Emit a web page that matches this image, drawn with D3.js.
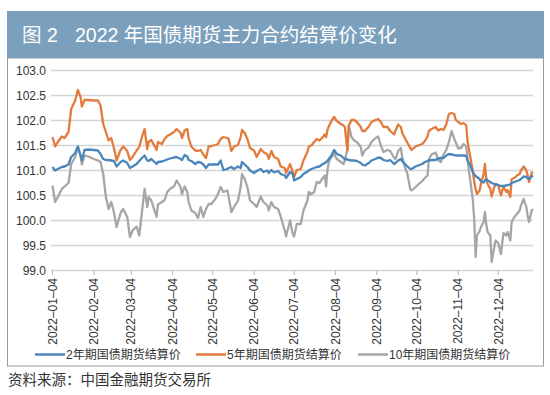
<!DOCTYPE html>
<html>
<head>
<meta charset="utf-8">
<script src="https://cdn.jsdelivr.net/npm/d3@7"></script>
<style>
  body { margin: 0; background: #fff; }
  svg { display: block; font-family: "Liberation Sans", "Noto Sans CJK SC", sans-serif; }
</style>
</head>
<body>
<svg width="550" height="395"></svg>
<script>
// trading-day samples (2022)
var dates = ["01-04","01-06","01-08","01-11","01-13","01-16","01-18","01-21","01-23","01-25","01-26","01-28","01-31","02-04","02-07","02-09","02-11","02-13","02-15","02-17","02-19","02-21","02-24","02-26","03-01","03-03",
  "03-05","03-08","03-10","03-12","03-14","03-16","03-17","03-19","03-23","03-24","03-27","03-29","03-31","04-02","04-05","04-07","04-10","04-11","04-13","04-15","04-16","04-18","04-21","04-23","04-25","04-27","04-29","05-01",
  "05-03","05-06","05-08","05-10","05-12","05-15","05-16","05-18","05-20","05-23","05-25","05-26","05-28","05-30","06-01","06-04","06-06","06-09","06-11","06-14","06-15","06-17","06-19","06-22","06-24","06-27","06-28","07-01",
  "07-03","07-04","07-06","07-09","07-11","07-14","07-15","07-17","07-19","07-21","07-23","07-25","07-27","07-28","07-29","07-30","08-01","08-03","08-05","08-08","08-10","08-11","08-13","08-14","08-16","08-18","08-20","08-23","08-24","08-26","08-29",
  "08-31","09-03","09-05","09-07","09-09","09-12","09-14","09-17","09-18","09-20","09-22","09-23","09-25","09-27","09-29","09-30","10-03","10-05","10-08","10-10","10-12","10-13","10-15","10-18","10-20","10-22","10-24","10-26","10-28",
  "10-30","11-01","11-02","11-04","11-06","11-08","11-10","11-11","11-13","11-15","11-16","11-17","11-18","11-20","11-21","11-23","11-24","11-25","11-26","11-28","11-29","12-01","12-02","12-04","12-06","12-07","12-08","12-10","12-11","12-13","12-14","12-16","12-18","12-20","12-21","12-23","12-25","12-26","12-27","12-29","12-30"];

var bond2y = [101.07,101.00,101.03,101.07,101.08,101.12,101.27,101.35,101.48,101.30,101.20,101.41,101.42,101.41,101.40,101.33,101.23,101.21,101.21,101.20,101.19,101.08,101.17,101.20,101.15,101.05,
  101.08,101.13,101.19,101.25,101.30,101.20,101.19,101.23,101.13,101.17,101.18,101.20,101.22,101.24,101.26,101.27,101.23,101.21,101.31,101.28,101.21,101.19,101.13,101.17,101.16,101.12,101.05,101.12,
  101.12,101.12,101.12,101.20,101.01,101.03,101.05,101.07,101.03,101.08,101.05,101.17,101.12,101.07,101.00,100.95,100.99,101.03,100.97,101.00,100.95,101.01,100.96,100.99,100.93,100.90,100.85,100.97,
  100.93,100.80,100.83,100.87,100.93,100.98,101.00,101.03,101.05,101.07,101.08,101.12,101.15,101.17,101.19,101.23,101.30,101.41,101.33,101.30,101.25,101.23,101.22,101.21,101.20,101.20,101.19,101.15,101.12,101.10,101.15,
  101.20,101.23,101.26,101.25,101.21,101.19,101.21,101.13,101.15,101.20,101.23,101.19,101.13,101.08,101.03,101.03,101.08,101.10,101.13,101.17,101.19,101.20,101.21,101.21,101.24,101.25,101.25,101.30,101.33,
  101.32,101.31,101.30,101.30,101.30,101.30,101.29,101.20,101.10,100.97,100.92,100.89,100.87,100.83,100.79,100.76,100.80,100.83,100.80,100.77,100.75,100.73,100.72,100.71,100.69,100.69,100.69,100.70,100.71,100.72,100.75,100.77,100.79,100.81,100.83,100.88,100.87,100.85,100.83,100.88,100.90];

var bond5y = [101.67,101.48,101.57,101.68,101.65,101.77,102.23,102.40,102.61,102.47,102.28,102.41,102.41,102.40,102.40,102.30,101.93,101.77,101.60,101.65,101.45,101.20,101.41,101.48,101.39,101.21,
  101.27,101.40,101.47,101.67,101.83,101.43,101.57,101.61,101.41,101.57,101.53,101.63,101.69,101.72,101.77,101.83,101.75,101.65,101.80,101.83,101.65,101.48,101.40,101.39,101.41,101.32,101.25,101.48,
  101.49,101.51,101.53,101.63,101.67,101.65,101.63,101.39,101.48,101.51,101.67,101.81,101.75,101.63,101.45,101.40,101.27,101.43,101.37,101.32,101.23,101.39,101.27,101.23,101.08,101.05,100.95,101.13,
  100.97,100.87,101.01,101.03,101.20,101.37,101.48,101.50,101.57,101.63,101.60,101.65,101.72,101.67,101.81,101.88,101.99,102.07,101.99,101.93,101.90,101.87,101.40,101.90,102.01,102.01,101.97,101.87,101.79,101.79,101.88,
  101.97,102.01,102.03,101.97,101.87,101.87,101.79,101.72,101.80,101.92,101.87,101.75,101.65,101.55,101.45,101.41,101.48,101.50,101.53,101.59,101.68,101.79,101.83,101.87,101.80,101.83,101.81,101.92,102.13,
  102.15,102.13,102.02,101.97,101.93,101.95,101.90,101.57,101.27,100.97,100.77,100.63,100.53,100.60,100.73,100.93,101.13,100.83,100.73,100.63,100.48,100.67,100.73,100.70,100.50,100.60,100.67,100.57,100.61,100.47,100.83,100.85,100.90,100.93,101.00,101.08,101.00,100.90,100.77,100.95,100.97];

var bond10y = [100.70,100.37,100.47,100.63,100.68,100.75,101.13,101.27,101.48,101.30,101.12,101.30,101.28,101.23,101.20,101.17,100.93,100.47,100.23,100.37,100.17,99.87,100.15,100.23,100.07,99.67,
  99.80,99.88,99.70,100.17,100.63,100.27,100.47,100.40,100.07,100.32,100.37,100.41,100.57,100.63,100.68,100.80,100.67,100.53,100.68,100.57,100.37,100.20,100.15,100.05,100.27,100.07,100.23,100.33,
  100.33,100.43,100.53,100.67,100.57,100.60,100.47,100.17,100.27,100.40,100.67,100.93,100.83,100.67,100.40,100.33,100.27,100.48,100.37,100.30,100.20,100.37,100.27,100.23,100.08,99.80,99.68,100.00,
  99.73,99.68,99.93,99.93,100.20,100.40,100.57,100.53,100.57,100.77,100.75,100.83,100.90,100.68,101.00,101.17,101.27,101.33,101.23,101.17,101.13,101.20,101.43,101.90,101.67,101.60,101.57,101.47,101.30,101.40,101.47,
  101.57,101.65,101.68,101.50,101.37,101.41,101.39,101.25,101.23,101.39,101.45,101.27,101.07,100.92,100.63,100.60,100.67,100.72,100.79,100.85,100.90,101.23,101.32,101.36,101.21,101.17,101.32,101.41,101.57,
  101.79,101.63,101.57,101.44,101.45,101.53,101.48,101.20,100.80,100.40,100.00,99.27,99.70,99.79,99.87,99.97,100.17,99.92,99.77,99.70,99.17,99.47,99.60,99.55,99.33,99.57,99.75,99.70,99.77,99.60,99.97,100.07,100.13,100.20,100.30,100.43,100.27,100.10,99.97,100.20,100.23];

var seriesNames = ["2年期国债期货结算价", "5年期国债期货结算价", "10年期国债期货结算价"];
var seriesColors = ["#4a86bb", "#e27b3c", "#a6a6a6"];
var yTicks = [99.0, 99.5, 100.0, 100.5, 101.0, 101.5, 102.0, 102.5, 103.0];
var xTicks = ["01-04","02-04","03-04","04-04","05-04","06-04","07-04","08-04","09-04","10-04","11-04","12-04"];

var parse = d3.utcParse("%Y-%m-%d");
var fmt = d3.utcFormat("%Y–%m–%d");
var svg = d3.select("svg");

// title band and frame
svg.append("rect").attr("x", 7.5).attr("y", 58).attr("width", 536).attr("height", 308)
  .attr("fill", "#fff").attr("stroke", "#9a9a9a").attr("stroke-width", 1);
svg.append("rect").attr("x", 7).attr("y", 11).attr("width", 537).attr("height", 47).attr("fill", "#7ba0bd");
var title = svg.append("text").attr("y", 35).attr("dominant-baseline", "central")
  .attr("fill", "#fff").attr("font-size", 19.5);
title.append("tspan").attr("x", 22).text("图 2");
title.append("tspan").attr("x", 75).text("2022 年国债期货主力合约结算价变化");

var x = d3.scaleUtc().domain([parse("2022-01-04"), parse("2022-12-30")]).range([52.5, 533]);
var y = d3.scaleLinear().domain([99, 103]).range([270.5, 70.5]);

// gridlines
svg.append("g").selectAll("line").data(yTicks).enter().append("line")
  .attr("x1", 51).attr("x2", 533)
  .attr("y1", function(d){ return y(d) }).attr("y2", function(d){ return y(d) })
  .attr("stroke", "#d4d4d4").attr("stroke-width", 1.5);

svg.append("g").selectAll("text").data(yTicks).enter().append("text")
  .attr("x", 46).attr("y", function(d){ return y(d) })
  .attr("text-anchor", "end").attr("dominant-baseline", "central")
  .attr("font-size", 12).attr("fill", "#333")
  .text(function(d){ return d.toFixed(1) });

// x ticks and rotated labels
var xt = svg.append("g").selectAll("g").data(xTicks).enter().append("g")
  .attr("transform", function(d){ return "translate(" + x(parse("2022-" + d)) + ",0)" });
xt.append("line").attr("y1", 270.5).attr("y2", 275).attr("stroke", "#bdbdbd").attr("stroke-width", 1.2);
xt.append("text").attr("transform", "translate(0,278) rotate(-90)")
  .attr("text-anchor", "end").attr("dy", "0.35em")
  .attr("font-size", 12).attr("fill", "#333")
  .text(function(d){ return fmt(parse("2022-" + d)) });

// lines
var series = [bond2y, bond5y, bond10y];
var line = d3.line()
  .x(function(d){ return x(d.date) })
  .y(function(d){ return y(d.v) });

// draw gray first, then orange, blue on top
[2, 1, 0].forEach(function(k){
  var pts = dates.map(function(d, i){ return { date: parse("2022-" + d), v: series[k][i] } });
  svg.append("path").datum(pts)
    .attr("d", line)
    .attr("fill", "none")
    .attr("stroke", seriesColors[k])
    .attr("stroke-width", 2.3)
    .attr("stroke-linejoin", "round");
});

// legend
var legendX = [35, 196, 358];
var lg = svg.append("g").selectAll("g").data(seriesNames).enter().append("g")
  .attr("transform", function(d, i){ return "translate(" + legendX[i] + ",354.5)" });
lg.append("line").attr("x1", 0).attr("x2", 30)
  .attr("stroke", function(d, i){ return seriesColors[i] }).attr("stroke-width", 2.5);
lg.append("text").attr("x", 31).attr("dominant-baseline", "central")
  .attr("font-size", 12).attr("fill", "#333")
  .text(function(d){ return d });

// source
svg.append("text").attr("x", 8).attr("y", 380).attr("dominant-baseline", "central")
  .attr("font-size", 14.5).attr("fill", "#333")
  .text("资料来源：中国金融期货交易所");
</script>
</body>
</html>
